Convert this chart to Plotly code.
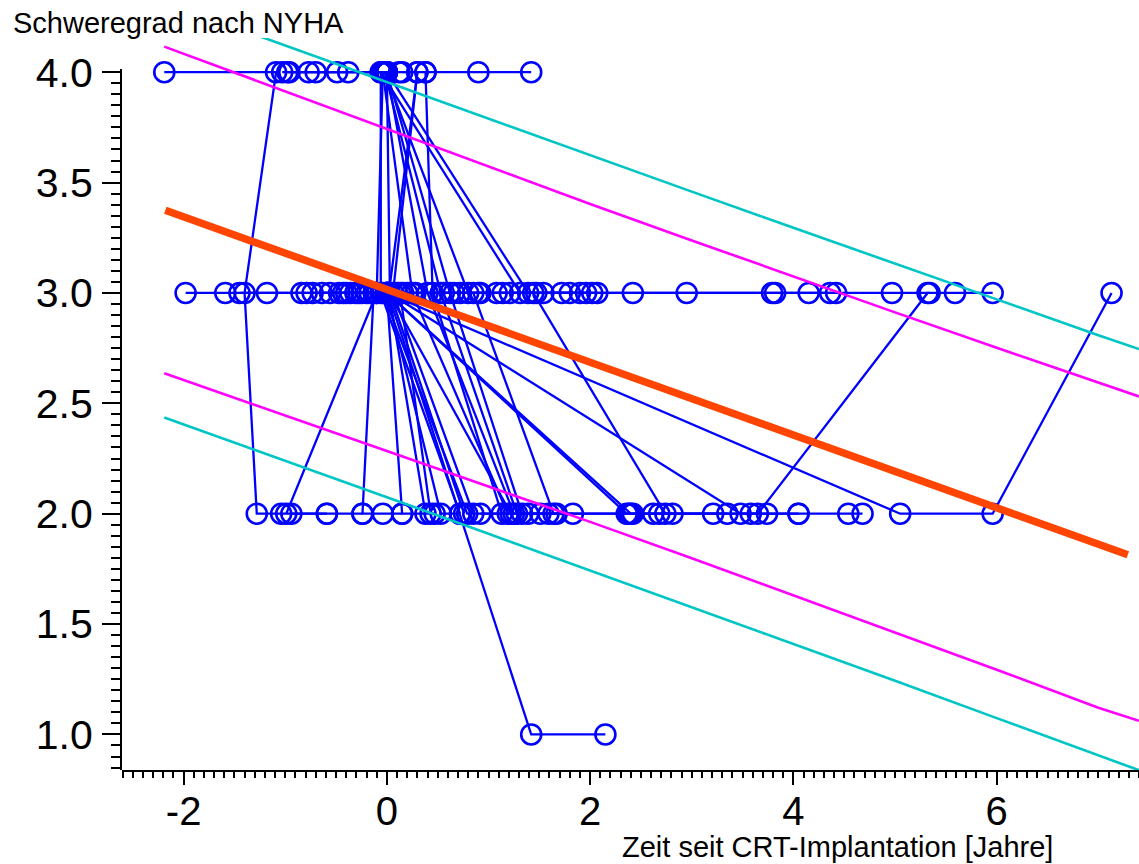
import plotly.graph_objects as go

# NYHA class per patient visit: years since CRT implantation and class
p01_years = [-2.19, -1.09, -1.40, -1.28, -1.04, -0.59]
p01_nyha = [4, 4, 3, 2, 2, 2]
p02_years = [-1.03, -0.77, -0.49, -0.04, -0.10]
p02_nyha = [4, 4, 4, 4, 3]
p03_years = [-0.98, -0.70, -0.38, -0.02, 0.80, 0.92]
p03_nyha = [4, 4, 4, 4, 3, 3]
p04_years = [-0.96, -0.06, -0.06, 0.72]
p04_nyha = [4, 4, 3, 2]
p05_years = [-0.04, 0.12, 0.38, 0.90, 1.42]
p05_nyha = [4, 4, 4, 4, 4]
p06_years = [0.00, 0.03, 0.76]
p06_nyha = [4, 3, 2]
p07_years = [-0.04, 0.79, 1.83]
p07_nyha = [3, 2, 2]
p08_years = [0.00, 0.53, 0.72]
p08_nyha = [3, 2, 2]
p09_years = [-0.04, 0.25, 1.19]
p09_nyha = [4, 3, 2]
p10_years = [0.00, 0.40, 1.25]
p10_nyha = [4, 3, 2]
p11_years = [-0.02, 0.53, 1.28]
p11_nyha = [4, 3, 2]
p12_years = [0.00, 0.62, 1.33, 1.59]
p12_nyha = [4, 3, 2, 2]
p13_years = [-0.06, 1.31, 1.80, 2.07]
p13_nyha = [4, 3, 3, 3]
p14_years = [0.00, 1.39, 1.44, 2.74, 2.81]
p14_nyha = [4, 3, 3, 2, 2]
p15_years = [0.15, 0.30, 0.02, 0.38]
p15_nyha = [4, 4, 3, 2]
p16_years = [0.30, 0.06, 0.85]
p16_nyha = [4, 3, 2]
p17_years = [0.38, 0.45, 1.13]
p17_nyha = [4, 3, 2]
p18_years = [-1.98, -1.59, -1.18, -0.84, -0.56, -0.31, 0.00, 2.36, 2.62, 3.21, 3.74, 4.05, 4.54, 4.68]
p18_nyha = [3, 3, 3, 3, 3, 3, 3, 2, 2, 2, 2, 2, 2, 2]
p19_years = [-1.45, -0.79, -0.43, 0.00, 2.40, 2.68, 3.35]
p19_nyha = [3, 3, 3, 3, 2, 2, 2]
p20_years = [-0.73, -0.36, 0.02, 3.48, 3.65, 5.32, 5.59, 5.96]
p20_nyha = [3, 3, 3, 2, 2, 3, 3, 3]
p21_years = [-0.64, -0.28, 0.00, 5.05, 5.96, 7.13]
p21_nyha = [3, 3, 3, 2, 2, 3]
p22_years = [-0.47, -0.20, 0.01, 1.42, 2.15]
p22_nyha = [3, 3, 3, 1, 1]
p23_years = [-0.99, -0.10, 0.13, 0.43]
p23_nyha = [2, 3, 3, 2]
p24_years = [-0.17, -0.13, -0.24, -0.04, 0.15]
p24_nyha = [3, 3, 2, 2, 2]
p25_years = [0.00, 0.15, 0.47]
p25_nyha = [3, 2, 2]
p26_years = [-0.40, 0.10, 0.56, 1.08, 1.54, 2.02, 2.42, 2.95, 3.79, 4.36, 4.97, 5.34]
p26_nyha = [3, 3, 3, 3, 3, 3, 3, 3, 3, 3, 3, 3]
p27_years = [-0.25, 0.16, 0.66, 1.14, 1.72, 3.82, 4.15, 4.42]
p27_nyha = [3, 3, 3, 3, 3, 3, 3, 3]
p28_years = [0.02, 1.22]
p28_nyha = [3, 2]
p29_years = [0.20, 0.72, 1.21, 1.96]
p29_nyha = [3, 3, 3, 3]
p30_years = [0.85, 1.64, 2.38]
p30_nyha = [3, 2, 2]
p31_years = [0.28, 0.90, 1.47, 1.90]
p31_nyha = [3, 3, 3, 3]
p32_years = [-0.94, -0.59, -0.24]
p32_nyha = [2, 2, 2]
p33_years = [0.92, 1.39, 1.67]
p33_nyha = [2, 2, 2]
p34_years = [1.51, 2.42, 3.58, 4.05]
p34_nyha = [2, 2, 2, 2]

# Regression line and its two bands
fit_years = [-2.18, 7.29]
fit_nyha = [3.375, 1.814]
band_years = [-2.19, -1.0, 0.0, 1.0, 2.0, 3.0, 4.0, 5.0, 6.0, 7.0, 7.4]
inner_upper = [4.116, 3.913, 3.743, 3.573, 3.403, 3.238, 3.074, 2.912, 2.752, 2.594, 2.531]
inner_lower = [2.636, 2.443, 2.284, 2.123, 1.963, 1.798, 1.630, 1.463, 1.293, 1.121, 1.062]
outer_upper = [4.318, 4.121, 3.955, 3.789, 3.622, 3.459, 3.295, 3.134, 2.971, 2.808, 2.746]
outer_lower = [2.436, 2.238, 2.075, 1.909, 1.743, 1.578, 1.410, 1.243, 1.074, 0.905, 0.838]

# Axis ticks
x_tick_vals = [-2, 0, 2, 4, 6]
x_tick_text = ["-2", "0", "2", "4", "6"]
y_tick_vals = [1.0, 1.5, 2.0, 2.5, 3.0, 3.5, 4.0]
y_tick_text = ["1.0", "1.5", "2.0", "2.5", "3.0", "3.5", "4.0"]

patients = [
    (p01_years, p01_nyha), (p02_years, p02_nyha), (p03_years, p03_nyha),
    (p04_years, p04_nyha), (p05_years, p05_nyha), (p06_years, p06_nyha),
    (p07_years, p07_nyha), (p08_years, p08_nyha), (p09_years, p09_nyha),
    (p10_years, p10_nyha), (p11_years, p11_nyha), (p12_years, p12_nyha),
    (p13_years, p13_nyha), (p14_years, p14_nyha), (p15_years, p15_nyha),
    (p16_years, p16_nyha), (p17_years, p17_nyha), (p18_years, p18_nyha),
    (p19_years, p19_nyha), (p20_years, p20_nyha), (p21_years, p21_nyha),
    (p22_years, p22_nyha), (p23_years, p23_nyha), (p24_years, p24_nyha),
    (p25_years, p25_nyha), (p26_years, p26_nyha), (p27_years, p27_nyha),
    (p28_years, p28_nyha), (p29_years, p29_nyha), (p30_years, p30_nyha),
    (p31_years, p31_nyha), (p32_years, p32_nyha), (p33_years, p33_nyha),
    (p34_years, p34_nyha),
]

xs, ys = [], []
for years, nyha in patients:
    xs += list(years) + [None]
    ys += list(nyha) + [None]

BLUE = "#0000FF"
FONT = "Liberation Sans, Arial, Helvetica, sans-serif"

fig = go.Figure()

# patient trajectories
fig.add_trace(go.Scatter(
    x=xs, y=ys, mode="lines+markers",
    line=dict(color=BLUE, width=2.3),
    marker=dict(symbol="circle-open", size=20, color=BLUE, line=dict(width=2.6, color=BLUE)),
    hoverinfo="skip", connectgaps=False,
))

for vals, col in [(inner_upper, "#FF00FF"), (inner_lower, "#FF00FF"),
                  (outer_upper, "#00C5C5"), (outer_lower, "#00C5C5")]:
    fig.add_trace(go.Scatter(x=band_years, y=vals, mode="lines",
                             line=dict(color=col, width=2.6), hoverinfo="skip"))

fig.add_trace(go.Scatter(x=fit_years, y=fit_nyha, mode="lines",
                         line=dict(color="#FF4500", width=7.5), hoverinfo="skip"))

# empty trace that carries the visible class axis
fig.add_trace(go.Scatter(x=[None], y=[None], xaxis="x", yaxis="y2",
                         mode="markers", hoverinfo="skip"))

Y_BOTTOM, Y_TOP, Y_AXIS_TOP = 0.839, 4.155, 4.015

fig.update_layout(
    width=1139, height=864,
    margin=dict(l=121.5, r=0, t=37.5, b=93.5, pad=0),
    paper_bgcolor="white", plot_bgcolor="rgba(0,0,0,0)",
    showlegend=False,
    font=dict(family=FONT, color="black"),
    xaxis=dict(
        range=[-2.606, 7.40], anchor="y",
        tickmode="array", tickvals=x_tick_vals, ticktext=x_tick_text,
        ticks="outside", ticklen=13, tickwidth=2, tickcolor="black",
        showline=True, linewidth=2, linecolor="black",
        showgrid=False, zeroline=False,
        tickfont=dict(size=40, family=FONT, color="black"),
        ticklabelstandoff=-8,
        minor=dict(tickmode="linear", tick0=0, dtick=0.1, ticks="outside",
                   ticklen=6, tickwidth=2, tickcolor="black", showgrid=False),
    ),
    yaxis=dict(range=[Y_BOTTOM, Y_TOP], domain=[0, 1], visible=False,
               showgrid=False, zeroline=False),
    yaxis2=dict(
        range=[Y_BOTTOM, Y_AXIS_TOP], anchor="x",
        domain=[0, (Y_AXIS_TOP - Y_BOTTOM) / (Y_TOP - Y_BOTTOM)],
        tickmode="array", tickvals=y_tick_vals, ticktext=y_tick_text,
        ticks="outside", ticklen=18, tickwidth=2, tickcolor="black",
        showline=True, linewidth=2, linecolor="black",
        showgrid=False, zeroline=False,
        tickfont=dict(size=41, family=FONT, color="black"),
        ticklabelstandoff=1,
        minor=dict(tickmode="linear", tick0=0, dtick=0.05, ticks="outside",
                   ticklen=9, tickwidth=2, tickcolor="black", showgrid=False),
    ),
    annotations=[
        dict(text="Schweregrad nach NYHA", xref="paper", yref="paper",
             x=(10 - 121.5) / 1017.5, y=(770.5 - 22) / 733,
             xanchor="left", yanchor="middle", showarrow=False,
             font=dict(size=29, family=FONT, color="black")),
        dict(text="Zeit seit CRT-Implantation [Jahre]", xref="paper", yref="paper",
             x=(1055 - 121.5) / 1017.5, y=(770.5 - 848) / 733,
             xanchor="right", yanchor="middle", showarrow=False,
             font=dict(size=29, family=FONT, color="black")),
    ],
)

fig.write_html("out.html")
